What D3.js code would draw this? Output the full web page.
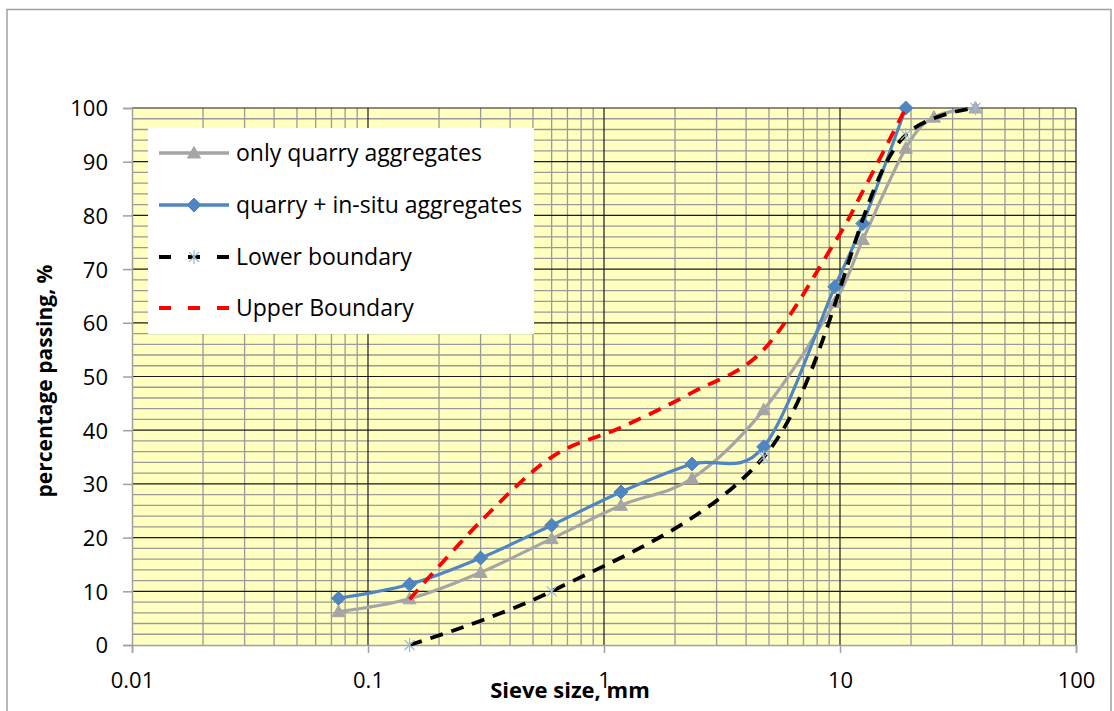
<!DOCTYPE html>
<html>
<head>
<meta charset="utf-8">
<script src="https://cdn.jsdelivr.net/npm/d3@7"></script>
<style>
  body { margin: 0; background: #fff; }
  text { font-family: "Open Sans", "Liberation Sans", sans-serif; }
</style>
</head>
<body>
<div id="chart"></div>
<script>
var width = 1114;
var height = 711;

// sieve sizes, mm
var sieves = [0.075, 0.15, 0.3, 0.6, 1.18, 2.36, 4.75, 9.5, 12.5, 19, 25, 37.5];
var quarryOnly = [6.2, 8.6, 13.5, 19.8, 26, 31, 43.8, 63.8, 75.5, 92.5, 98.3, 100];

var mixSieves = [0.075, 0.15, 0.3, 0.6, 1.18, 2.36, 4.75, 9.5, 12.5, 19];
var quarryInSitu = [8.7, 11.3, 16.2, 22.3, 28.5, 33.7, 36.9, 66.7, 78.5, 100];

var lowerSieves = [0.15, 0.6, 4.75, 19, 37.5];
var lowerValues = [0, 10, 35, 95, 100];

var upperSieves = [0.15, 0.3, 0.6, 1.18, 2.36, 4.75, 9.5, 12.5, 19];
var upperValues = [8.5, 23, 35, 40.5, 47, 55, 75, 84.5, 100];

var xTicks = [0.01, 0.1, 1, 10, 100];
var yTicks = [0, 10, 20, 30, 40, 50, 60, 70, 80, 90, 100];

var seriesNames = ["only quarry aggregates", "quarry + in-situ aggregates", "Lower boundary", "Upper Boundary"];

var smooth = d3.curveCardinal.tension(0);

var series = [
  { name: seriesNames[0], xs: sieves, ys: quarryOnly, color: "#a5a5a5", dash: null, marker: "triangle", curve: smooth },
  { name: seriesNames[1], xs: mixSieves, ys: quarryInSitu, color: "#4f86c1", dash: null, marker: "diamond", curve: smooth },
  { name: seriesNames[2], xs: lowerSieves, ys: lowerValues, color: "#000000", dash: "13,9", marker: "star", curve: d3.curveCatmullRom.alpha(0.5) },
  { name: seriesNames[3], xs: upperSieves, ys: upperValues, color: "#ff0000", dash: "13,9", marker: null, curve: smooth }
];

var plotLeft = 132, plotRight = 1076, plotTop = 108, plotBottom = 645;

var x = d3.scaleLog().domain([0.01, 100]).range([plotLeft, plotRight]);
var y = d3.scaleLinear().domain([0, 100]).range([plotBottom, plotTop]);

var svg = d3.select('#chart').append('svg')
  .attr('width', width).attr('height', height);

// outer chart frame
svg.append('rect')
  .attr('x', 7).attr('y', 9.5)
  .attr('width', 1104).attr('height', 720)
  .attr('fill', 'white')
  .attr('stroke', '#a0a0a0')
  .attr('stroke-width', 1.5);

// plot area
svg.append('rect')
  .attr('x', plotLeft).attr('y', plotTop)
  .attr('width', plotRight - plotLeft).attr('height', plotBottom - plotTop)
  .attr('fill', '#ffffc0');

// minor grid
var minorX = [];
[0.01, 0.1, 1, 10].forEach(function(d) {
  for (var k = 2; k <= 9; k++) minorX.push(d * k);
});
var minorY = d3.range(2, 100, 2).filter(function(v) { return v % 10 != 0; });

var grid = svg.append('g');
grid.selectAll('.minory').data(minorY).enter().append('line')
  .attr('x1', plotLeft).attr('x2', plotRight)
  .attr('y1', function(d) { return y(d); }).attr('y2', function(d) { return y(d); })
  .attr('stroke', '#9a9a9a').attr('stroke-width', 1.3);
grid.selectAll('.minorx').data(minorX).enter().append('line')
  .attr('y1', plotTop).attr('y2', plotBottom)
  .attr('x1', function(d) { return x(d); }).attr('x2', function(d) { return x(d); })
  .attr('stroke', '#9a9a9a').attr('stroke-width', 1.3);
grid.selectAll('.majory').data(yTicks.slice(1)).enter().append('line')
  .attr('x1', plotLeft).attr('x2', plotRight)
  .attr('y1', function(d) { return y(d); }).attr('y2', function(d) { return y(d); })
  .attr('stroke', '#1a1a1a').attr('stroke-width', 1.2);
grid.selectAll('.majorx').data(xTicks.slice(1)).enter().append('line')
  .attr('y1', plotTop).attr('y2', plotBottom)
  .attr('x1', function(d) { return x(d); }).attr('x2', function(d) { return x(d); })
  .attr('stroke', '#1a1a1a').attr('stroke-width', 1.2);

// axes
var yAxis = svg.append('g')
  .attr('transform', 'translate(' + plotLeft + ',0)')
  .call(d3.axisLeft(y).tickValues(yTicks).tickSize(9).tickPadding(15));
var xAxis = svg.append('g')
  .attr('transform', 'translate(0,' + plotBottom + ')')
  .call(d3.axisBottom(x).tickValues(xTicks).tickFormat(function(d) { return String(d); }).tickSize(8).tickPadding(15));

[yAxis, xAxis].forEach(function(a) {
  a.select('.domain').attr('stroke', '#a0a0a0').attr('stroke-width', 1.5);
  a.selectAll('.tick line').attr('stroke', '#a0a0a0').attr('stroke-width', 1.5);
  a.selectAll('.tick text').attr('font-size', 22).attr('fill', '#000')
    .style('font-family', '"Open Sans", sans-serif');
});
yAxis.selectAll('.tick text').attr('dy', '0.36em');
xAxis.selectAll('.tick text').attr('dy', '0.9em');

// axis titles
svg.append('text')
  .attr('x', 570).attr('y', 698)
  .attr('text-anchor', 'middle')
  .attr('font-size', 22).attr('font-weight', 'bold')
  .text('Sieve size, mm');

svg.append('text')
  .attr('transform', 'translate(52,381) rotate(-90)')
  .attr('text-anchor', 'middle')
  .attr('font-size', 21).attr('font-weight', 'bold')
  .text('percentage passing, %');

// markers
function markerPath(type) {
  if (type == 'triangle') return 'M0,-6.5 L6.5,5 L-6.5,5 Z';
  if (type == 'diamond') return 'M0,-7 L7,0 L0,7 L-7,0 Z';
  if (type == 'star') return 'M-5,-5 L5,5 M-5,5 L5,-5 M0,-7 L0,7';
  return null;
}

function drawMarker(g, type, color, px, py) {
  var p = g.append('path')
    .attr('d', markerPath(type))
    .attr('transform', 'translate(' + px + ',' + py + ')');
  if (type == 'star') {
    p.attr('fill', 'none').attr('stroke', '#9db7da').attr('stroke-width', 1.2);
  } else {
    p.attr('fill', color).attr('stroke', color).attr('stroke-width', 1);
  }
}

var plot = svg.append('g');
series.forEach(function(s) {
  var pts = s.xs.map(function(v, i) { return [v, s.ys[i]]; });
  var line = d3.line()
    .x(function(d) { return x(d[0]); })
    .y(function(d) { return y(d[1]); })
    .curve(s.curve);
  var g = plot.append('g');
  g.append('path')
    .datum(pts)
    .attr('d', line)
    .attr('fill', 'none')
    .attr('stroke', s.color)
    .attr('stroke-width', s.dash ? 3.8 : 3.2)
    .attr('stroke-dasharray', s.dash);
  if (s.marker) {
    pts.forEach(function(p) {
      drawMarker(g, s.marker, s.color, x(p[0]), y(p[1]));
    });
  }
});

// legend
var legend = svg.append('g');
legend.append('rect')
  .attr('x', 148).attr('y', 128)
  .attr('width', 386).attr('height', 206)
  .attr('fill', 'white');

var legendY = [153, 205, 257, 308];
series.forEach(function(s, i) {
  var ly = legendY[i];
  var g = legend.append('g');
  g.append('line')
    .attr('x1', 159).attr('x2', 229)
    .attr('y1', ly).attr('y2', ly)
    .attr('stroke', s.color)
    .attr('stroke-width', s.dash ? 4 : 3.6)
    .attr('stroke-dasharray', s.dash ? '12,17' : null);
  if (s.marker) drawMarker(g, s.marker, s.color, 194, ly);
  g.append('text')
    .attr('x', 236).attr('y', ly)
    .attr('dy', '0.35em')
    .attr('font-size', 23)
    .text(s.name);
});
</script>
</body>
</html>
